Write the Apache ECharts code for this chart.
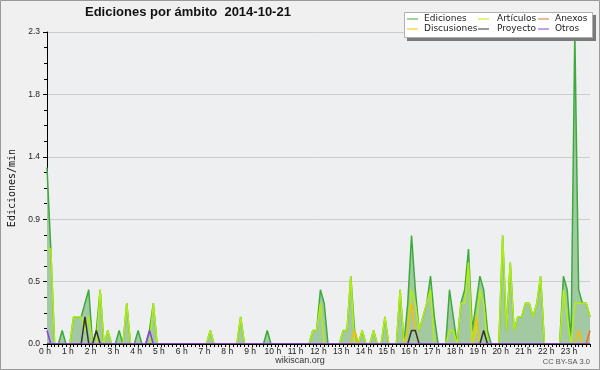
<!DOCTYPE html>
<html><head><meta charset="utf-8">
<script src="https://cdn.jsdelivr.net/npm/echarts@6/dist/echarts.min.js"></script>
<style>html,body{margin:0;padding:0;background:#f0f0f0}#c{width:600px;height:370px}</style>
</head><body><div id="c"></div><script>
// Tick labels for the hours (every 6th 10-minute slot)
const hourLabels = ['0 h','1 h','2 h','3 h','4 h','5 h','6 h','7 h','8 h','9 h','10 h','11 h',
  '12 h','13 h','14 h','15 h','16 h','17 h','18 h','19 h','20 h','21 h','22 h','23 h'];
// 10-minute slots of the day
const slots = [];
for (let h = 0; h < 24; h++) for (let m = 0; m < 60; m += 10) slots.push(String(h).padStart(2,'0') + ':' + String(m).padStart(2,'0'));

// Values (edits/min), one row per hour, six 10-minute slots each
const ediciones = [
  1.3,0.7,0,0,0.1,0,   0,0.2,0.2,0.2,0.3,0.4,   0,0.1,0.4,0,0.1,0,   0,0.1,0,0.3,0,0,
  0.1,0,0,0.1,0.3,0,   0,0,0,0,0,0,             0,0,0,0,0,0,         0,0.1,0,0,0,0,
  0,0,0,0.2,0,0,       0,0,0,0,0.1,0,           0,0,0,0,0,0,         0,0,0,0,0.1,0.1,
  0.4,0.3,0,0,0,0,     0.1,0.1,0.5,0.1,0,0.1,   0,0,0.1,0,0,0.2,     0,0,0,0.4,0,0.3,
  0.8,0.4,0.1,0.2,0.3,0.5, 0.2,0,0,0,0.4,0.2,   0,0.3,0.4,0.7,0.1,0.3, 0.5,0.4,0.1,0,0,0,
  0.8,0.1,0.6,0.1,0.2,0.2, 0.3,0.3,0.2,0.3,0.5,0, 0,0,0,0,0.5,0.4,   0,2.3,0.4,0.3,0.3,0.2
];
const articulos = [
  0.7,0.7,0,0,0,0,     0,0.2,0.2,0.2,0.1,0.2,   0,0,0.4,0,0.1,0,     0,0,0,0.3,0,0,
  0,0,0,0,0.3,0,       0,0,0,0,0,0,             0,0,0,0,0,0,         0,0.1,0,0,0,0,
  0,0,0,0.2,0,0,       0,0,0,0,0,0,             0,0,0,0,0,0,         0,0,0,0,0.1,0.1,
  0.3,0,0,0,0,0,       0.1,0.1,0.5,0,0,0.1,     0,0,0.1,0,0,0.2,     0,0,0,0.4,0,0.1,
  0.4,0.3,0.1,0.2,0.3,0.4, 0,0,0,0,0.1,0.1,     0,0.3,0.3,0.6,0,0.1, 0.4,0.3,0,0,0,0,
  0.8,0.1,0.6,0.1,0.2,0.2, 0.3,0.3,0.2,0.3,0.5,0, 0,0,0,0,0.4,0.2,   0,0.3,0.3,0.3,0.3,0.2
];
const anexos = [
  0,0,0,0,0,0, 0,0,0,0,0,0, 0,0,0,0,0,0, 0,0,0,0,0,0,
  0,0,0,0,0,0, 0,0,0,0,0,0, 0,0,0,0,0,0, 0,0,0,0,0,0,
  0,0,0,0,0,0, 0,0,0,0,0,0, 0,0,0,0,0,0, 0,0,0,0,0,0,
  0,0,0,0,0,0, 0,0,0,0,0,0, 0,0,0,0,0,0, 0,0,0,0,0,0,
  0,0,0,0,0,0, 0,0,0,0,0,0, 0,0,0,0,0,0, 0,0,0,0,0,0,
  0,0,0,0,0,0, 0,0,0,0,0,0, 0,0,0,0,0,0, 0,0,0,0,0,0.1
];
const discusiones = [
  0,0,0,0,0,0, 0,0,0,0,0,0, 0,0,0,0,0,0, 0,0,0,0,0,0,
  0,0,0,0,0,0, 0,0,0,0,0,0, 0,0,0,0,0,0, 0,0,0,0,0,0,
  0,0,0,0,0,0, 0,0,0,0,0,0, 0,0,0,0,0,0, 0,0,0,0,0,0,
  0,0,0,0,0,0, 0,0,0,0.1,0,0, 0,0,0,0,0,0, 0,0,0,0,0,0.1,
  0.3,0.1,0,0,0,0, 0,0,0,0,0,0, 0,0,0,0,0,0.2, 0,0,0,0,0,0,
  0,0,0,0,0,0, 0,0,0,0,0,0, 0,0,0,0,0,0, 0,0,0.1,0,0,0
];
const proyecto = [
  0,0,0,0,0,0, 0,0,0,0,0.2,0, 0,0.1,0,0,0,0, 0,0,0,0,0,0,
  0,0,0,0,0,0, 0,0,0,0,0,0, 0,0,0,0,0,0, 0,0,0,0,0,0,
  0,0,0,0,0,0, 0,0,0,0,0,0, 0,0,0,0,0,0, 0,0,0,0,0,0,
  0,0,0,0,0,0, 0,0,0,0,0,0, 0,0,0,0,0,0, 0,0,0,0,0,0,
  0.1,0.1,0,0,0,0, 0,0,0,0,0,0, 0,0,0,0,0,0, 0,0.1,0,0,0,0,
  0,0,0,0,0,0, 0,0,0,0,0,0, 0,0,0,0,0,0, 0,0,0,0,0,0
];
const otros = [
  0.1,0,0,0,0,0, 0,0,0,0,0,0, 0,0,0,0,0,0, 0,0,0,0,0,0,
  0,0,0,0.1,0,0, 0,0,0,0,0,0, 0,0,0,0,0,0, 0,0,0,0,0,0,
  0,0,0,0,0,0, 0,0,0,0,0,0, 0,0,0,0,0,0, 0,0,0,0,0,0,
  0,0,0,0,0,0, 0,0,0,0,0,0, 0,0,0,0,0,0, 0,0,0,0,0,0,
  0,0,0,0,0,0, 0,0,0,0,0,0, 0,0,0,0,0,0, 0,0,0,0,0,0,
  0,0,0,0,0,0, 0,0,0,0,0,0, 0,0,0,0,0,0, 0,0,0,0,0,0
];

const SANS = '"Liberation Sans", Arial, sans-serif';
const LEG = '"DejaVu Sans", sans-serif';

function line(name, data, color, extra) {
  return Object.assign({
    name, type: 'line', data, showSymbol: false, symbol: 'none',
    lineStyle: { width: 1.5, color }, itemStyle: { color },
    emphasis: { disabled: true }, silent: true
  }, extra || {});
}
function legend(items, left, gapText) {
  return {
    data: items, orient: 'vertical', left, top: 14, padding: 0,
    icon: 'rect', itemWidth: 11, itemHeight: 1, itemGap: 0, selectedMode: false, z: 22,
    textStyle: { fontFamily: LEG, fontSize: 9, color: '#222', lineHeight: 10, padding: [0,0,0,gapText] }
  };
}

const chart = echarts.init(document.getElementById('c'), null, { renderer: 'canvas' });
chart.setOption({
  backgroundColor: '#f0f0f0',
  animation: false,
  title: { text: 'Ediciones por ámbito  2014-10-21', left: 85, top: 6, padding: 0,
    textStyle: { fontFamily: SANS, fontWeight: 'bold', fontSize: 13, color: '#111' } },
  grid: { left: 47, right: 10, top: 32, bottom: 26, show: true, backgroundColor: '#eeeff1', borderWidth: 0, outerBoundsMode: 'none' },
  legend: [
    legend(['Ediciones', 'Discusiones'], 407, 1),
    legend(['Artículos', 'Proyecto'], 478, 3),
    legend(['Anexos', 'Otros'], 538, 1)
  ],
  xAxis: {
    type: 'category', data: slots, boundaryGap: false, z: 10,
    axisLine: { lineStyle: { color: '#000', width: 1 } },
    axisTick: { interval: 0, length: 3, lineStyle: { color: '#000' } },
    axisLabel: { interval: 5, formatter: (v, i) => hourLabels[i / 6], fontFamily: SANS, fontSize: 8.5, color: '#222', margin: 3, padding: [0,4,0,0] },
    splitLine: { show: false }
  },
  yAxis: {
    type: 'value', min: 0, max: 2.3, interval: 0.46,
    name: 'Ediciones/min', nameLocation: 'middle', nameGap: 30,
    nameTextStyle: { fontFamily: '"DejaVu Sans Mono", monospace', fontSize: 10, color: '#111' },
    axisLine: { show: true, lineStyle: { color: '#000' } },
    axisTick: { show: true, length: 4, lineStyle: { color: '#000' } },
    minorTick: { show: true, splitNumber: 4, length: 3, lineStyle: { color: '#000' } },
    axisLabel: { formatter: v => v.toFixed(1), fontFamily: SANS, fontSize: 8.5, color: '#222', margin: 7 },
    splitLine: { lineStyle: { color: '#cccccc' } }
  },
  series: [
    line('Ediciones', ediciones, '#3cab3c', { areaStyle: { color: '#a3c9a3', opacity: 1 } }),
    line('Artículos', articulos, '#b4ee10'),
    line('Anexos', anexos, '#ee6a2c'),
    line('Discusiones', discusiones, '#f2c200'),
    line('Proyecto', proyecto, '#333333'),
    line('Otros', otros, '#8a3cf0')
  ],
  graphic: [
    { type: 'rect', z: 20, shape: { x: 407, y: 15, width: 189, height: 26 }, style: { fill: '#7a7a7a' } },
    { type: 'rect', z: 20, shape: { x: 404.5, y: 12.5, width: 188, height: 25 }, style: { fill: '#ffffff', stroke: '#b0b0b0', lineWidth: 1 } },
    { type: 'text', z: 20, x: 300, y: 361, style: { text: 'wikiscan.org', font: '9px ' + SANS, fill: '#333', align: 'center', verticalAlign: 'middle' } },
    { type: 'text', z: 20, x: 590, y: 362, style: { text: 'CC BY-SA 3.0', font: '7.5px ' + SANS, fill: '#555', align: 'right', verticalAlign: 'middle' } },
    { type: 'rect', z: 30, shape: { x: 0.5, y: 0.5, width: 599, height: 369 }, style: { fill: 'none', stroke: '#9a9a9a', lineWidth: 1 } }
  ]
});
</script></body></html>
